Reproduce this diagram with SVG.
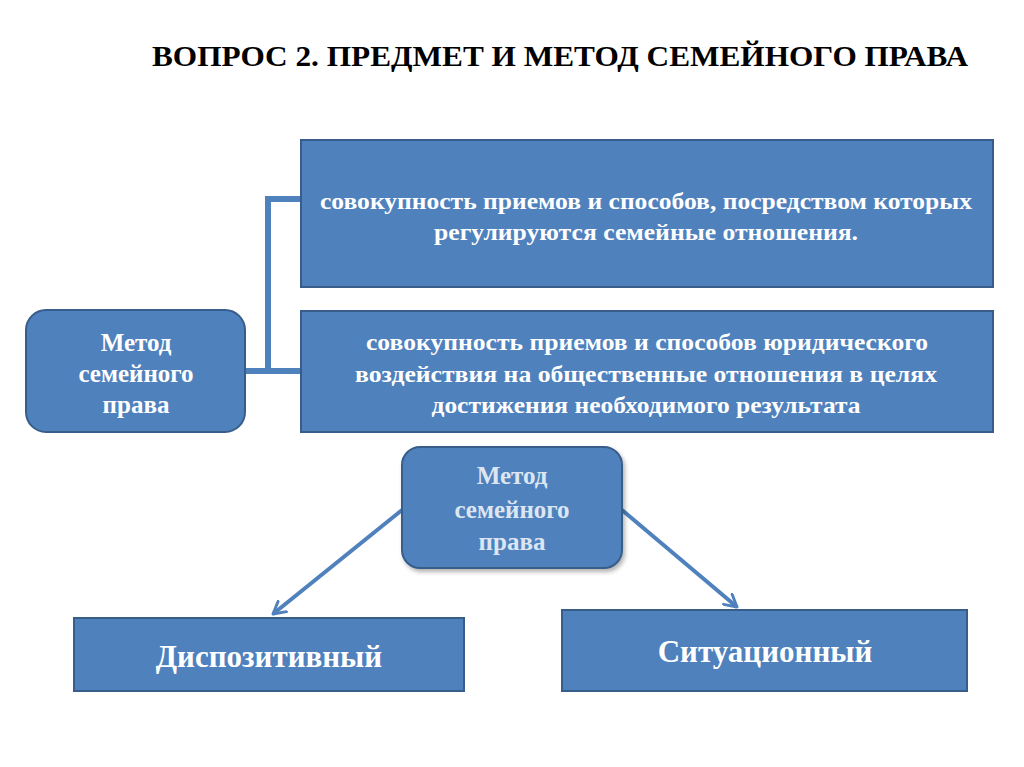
<svg xmlns="http://www.w3.org/2000/svg" width="1024" height="767" viewBox="0 0 1024 767">
<defs>
<style>
.box{fill:#4F81BD;stroke:#385D8A;stroke-width:2}
.t{font-family:"Liberation Serif","Times New Roman",serif;font-weight:bold;fill:#fff;text-anchor:middle}
.conn{fill:none;stroke:#4F81BD;stroke-width:6}
.arr{fill:none;stroke:#4F81BD;stroke-width:4}
</style>
<marker id="ah" viewBox="0 0 12 12" refX="10" refY="6" markerWidth="4" markerHeight="4" orient="auto" markerUnits="strokeWidth">
<path d="M1,1 L10,6 L1,11" fill="none" stroke="#4F81BD" stroke-width="2.2" stroke-linecap="round" stroke-linejoin="round"/>
</marker>
<filter id="sh" x="-10%" y="-10%" width="125%" height="130%">
<feDropShadow dx="2" dy="3" stdDeviation="2" flood-color="#000" flood-opacity="0.3"/>
</filter>
</defs>
<rect width="1024" height="767" fill="#fff"/>
<text x="560" y="66" font-family="'Liberation Serif','Times New Roman',serif" font-weight="bold" font-size="30" text-anchor="middle" fill="#000" textLength="816" lengthAdjust="spacingAndGlyphs">ВОПРОС 2. ПРЕДМЕТ И МЕТОД СЕМЕЙНОГО ПРАВА</text>
<g id="connectors">
<polyline class="conn" points="245,371 301,371"/>
<polyline class="conn" points="268,371 268,199 301,199"/>
<line class="arr" x1="402" y1="510" x2="273" y2="614" marker-end="url(#ah)"/>
<line class="arr" x1="622" y1="510" x2="737" y2="607" marker-end="url(#ah)"/>
</g>
<g id="box1">
<rect class="box" x="301" y="140" width="692" height="147"/>
<text class="t" font-size="24" x="646" y="209" textLength="652" lengthAdjust="spacingAndGlyphs">совокупность приемов и способов, посредством которых</text>
<text class="t" font-size="24" x="646" y="240" textLength="424" lengthAdjust="spacingAndGlyphs">регулируются семейные отношения.</text>
</g>
<g id="box2">
<rect class="box" x="301" y="311" width="692" height="121"/>
<text class="t" font-size="23" x="647" y="350" textLength="562" lengthAdjust="spacingAndGlyphs">совокупность приемов и способов юридического</text>
<text class="t" font-size="23" x="646" y="382" textLength="582" lengthAdjust="spacingAndGlyphs">воздействия на общественные отношения в целях</text>
<text class="t" font-size="23" x="646" y="413" textLength="429" lengthAdjust="spacingAndGlyphs">достижения необходимого результата</text>
</g>
<g id="method-left">
<rect class="box" x="26" y="310" width="219" height="122" rx="20"/>
<text class="t" font-size="25" x="136" y="351">Метод</text>
<text class="t" font-size="25" x="136" y="382">семейного</text>
<text class="t" font-size="25" x="136" y="413">права</text>
</g>
<g id="method-center">
<rect class="box" x="402" y="447" width="220" height="121" rx="18" filter="url(#sh)"/>
<text class="t" font-size="25" x="512" y="484" style="fill:#dce6f2">Метод</text>
<text class="t" font-size="25" x="512" y="518" style="fill:#dce6f2">семейного</text>
<text class="t" font-size="25" x="512" y="550" style="fill:#dce6f2">права</text>
</g>
<g id="dispositive">
<rect class="box" x="74" y="618" width="390" height="73"/>
<text class="t" font-size="31" x="269" y="667">Диспозитивный</text>
</g>
<g id="situational">
<rect class="box" x="562" y="610" width="405" height="81"/>
<text class="t" font-size="31" x="765" y="662">Ситуационный</text>
</g>
</svg>
